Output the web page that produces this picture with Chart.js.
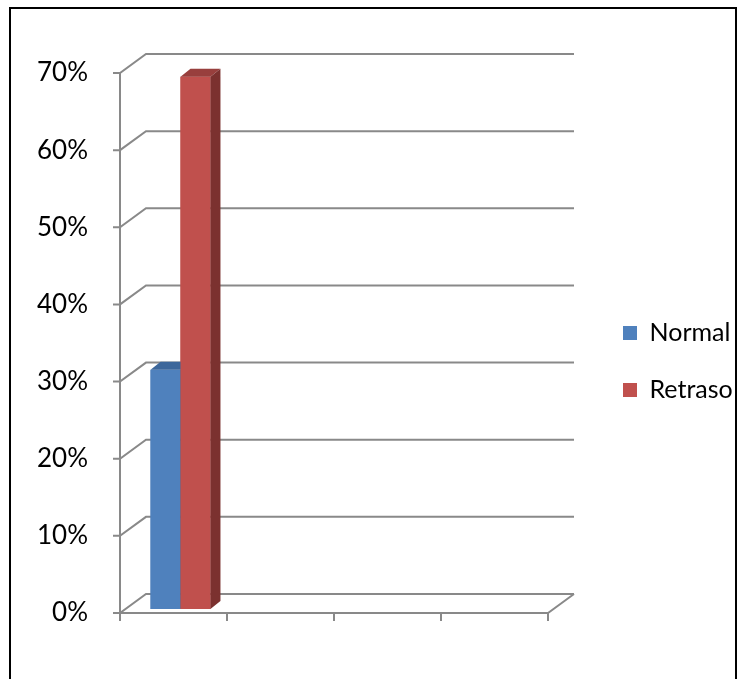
<!DOCTYPE html>
<html><head><meta charset="utf-8">
<style>html,body{margin:0;padding:0;background:#fff;}#wrap{width:745px;height:679px;}</style>
<script src="https://cdn.jsdelivr.net/npm/chart.js@4.4.1/dist/chart.umd.min.js"></script>
</head><body><div id="wrap"><canvas id="c" width="745" height="679"></canvas></div>
<script>
// ---- data ----
const categories = ['', '', '', ''];
const seriesNames = ['Normal', 'Retraso'];
const normalValues = [0.31, null, null, null];
const retrasoValues = [0.69, null, null, null];
const yTickLabels = ['0%', '10%', '20%', '30%', '40%', '50%', '60%', '70%'];

// ---- style ----
const FONT_FAMILY = 'Lato';
const FONT_SIZE = 25;
const TICK_FONT_SIZE = 26;
const FONT = FONT_FAMILY + ', "Liberation Sans", sans-serif';
const GRID = '#898989';
const WALL_DX = 26, WALL_DY = 19;
const BAR_SHIFT_X = 7, BAR_SHIFT_Y = -4;
const BAR_DX = 10, BAR_DY = 8;
const LEG_BOX = 14, LEG_PAD = 32;
const faceColors = [
  {front: '#4F81BD', top: '#3D679B', side: '#335783'},
  {front: '#C0504D', top: '#983F3D', side: '#7B312F'}
];

const threeD = {
  id: 'threeD',
  beforeDatasetsDraw(chart) {
    const {ctx, chartArea: {left, right, bottom}, scales: {x, y}} = chart;
    ctx.save();
    ctx.strokeStyle = GRID;
    ctx.lineWidth = 2;
    y.ticks.forEach(t => {
      const py = y.getPixelForValue(t.value);
      ctx.beginPath();
      ctx.moveTo(left - 7, py);
      ctx.lineTo(left, py);
      ctx.lineTo(left + WALL_DX, py - WALL_DY);
      ctx.lineTo(right + WALL_DX, py - WALL_DY);
      ctx.stroke();
    });
    const top = y.getPixelForValue(y.max);
    ctx.beginPath();
    ctx.moveTo(left, top); ctx.lineTo(left, bottom);
    ctx.lineTo(right, bottom); ctx.lineTo(right + WALL_DX, bottom - WALL_DY);
    ctx.stroke();
    const w = x.getPixelForValue(1) - x.getPixelForValue(0);
    for (let i = 0; i <= categories.length; i++) {
      const px = x.getPixelForValue(0) - w / 2 + i * w;
      ctx.beginPath(); ctx.moveTo(px, bottom); ctx.lineTo(px, bottom + 8); ctx.stroke();
    }
    ctx.restore();
    ctx.save();
    ctx.translate(BAR_SHIFT_X, BAR_SHIFT_Y);
  },
  afterDatasetsDraw(chart) {
    const {ctx} = chart;
    ctx.restore();
    ctx.save();
    chart.data.datasets.forEach((ds, di) => {
      const meta = chart.getDatasetMeta(di);
      const c = faceColors[di];
      meta.data.forEach((bar, i) => {
        if (ds.data[i] == null) return;
        const p = bar.getProps(['x', 'y', 'base', 'width'], true);
        const l = p.x - p.width / 2 + BAR_SHIFT_X, r = p.x + p.width / 2 + BAR_SHIFT_X;
        const t = p.y + BAR_SHIFT_Y, b = p.base + BAR_SHIFT_Y;
        ctx.fillStyle = c.front;
        ctx.fillRect(l, t, r - l, b - t);
        ctx.fillStyle = c.top;
        ctx.beginPath();
        ctx.moveTo(l, t); ctx.lineTo(r, t); ctx.lineTo(r + BAR_DX, t - BAR_DY); ctx.lineTo(l + BAR_DX, t - BAR_DY);
        ctx.closePath(); ctx.fill();
        ctx.fillStyle = c.side;
        ctx.beginPath();
        ctx.moveTo(r, t); ctx.lineTo(r + BAR_DX, t - BAR_DY); ctx.lineTo(r + BAR_DX, b - BAR_DY); ctx.lineTo(r, b);
        ctx.closePath(); ctx.fill();
      });
    });
    ctx.restore();
  },
  afterDraw(chart) {
    const {ctx} = chart;
    ctx.save();
    ctx.strokeStyle = '#000';
    ctx.lineWidth = 2;
    ctx.strokeRect(10, 8, 726, 700);
    ctx.restore();
  }
};

function build() {
  // measure legend text to place the legend and plot area like the reference
  const mctx = document.createElement('canvas').getContext('2d');
  mctx.font = FONT_SIZE + 'px ' + FONT;
  const tw = Math.max(...seriesNames.map(s => mctx.measureText(s).width));
  const legendWidth = LEG_PAD + LEG_BOX + FONT_SIZE / 2 + tw + 10;
  const legendLeft = 623 - LEG_PAD;
  const padRight = Math.max(0, 745 - legendLeft - legendWidth);
  const plotRight = 548;

  new Chart(document.getElementById('c'), {
    type: 'bar',
    data: {
      labels: categories,
      datasets: [
        {label: seriesNames[0], data: normalValues, backgroundColor: faceColors[0].front, borderWidth: 0},
        {label: seriesNames[1], data: retrasoValues, backgroundColor: faceColors[1].front, borderWidth: 0}
      ]
    },
    options: {
      responsive: false,
      animation: false,
      devicePixelRatio: 1,
      layout: {padding: {top: 73, bottom: 29, left: 0, right: padRight}},
      datasets: {bar: {barPercentage: 1, categoryPercentage: 0.56}},
      plugins: {
        tooltip: {enabled: false},
        legend: {
          position: 'right',
          maxWidth: legendWidth,
          labels: {font: {family: FONT, size: FONT_SIZE}, color: '#000', boxWidth: LEG_BOX, boxHeight: LEG_BOX, padding: LEG_PAD}
        }
      },
      scales: {
        x: {
          grid: {display: false}, border: {display: false},
          ticks: {display: false},
          afterFit(s) { s.height = 37; }
        },
        y: {
          min: 0, max: 0.7,
          grid: {display: false}, border: {display: false},
          ticks: {stepSize: 0.1, padding: 24, color: '#000', font: {family: FONT, size: TICK_FONT_SIZE},
            callback: (v, i) => yTickLabels[i]},
          afterFit(s) { s.width = 120; }
        },
        yRight: {
          type: 'linear', position: 'right', display: true,
          grid: {display: false}, border: {display: false}, ticks: {display: false},
          afterFit(s) { s.width = legendLeft - plotRight; }
        }
      }
    },
    plugins: [threeD]
  });
}

let built = false;
function go() { if (!built) { built = true; build(); } }
if (document.fonts && document.fonts.load) {
  document.fonts.load(FONT_SIZE + 'px ' + FONT_FAMILY).then(go, go);
  setTimeout(go, 500);
} else { go(); }
</script>
</body></html>
